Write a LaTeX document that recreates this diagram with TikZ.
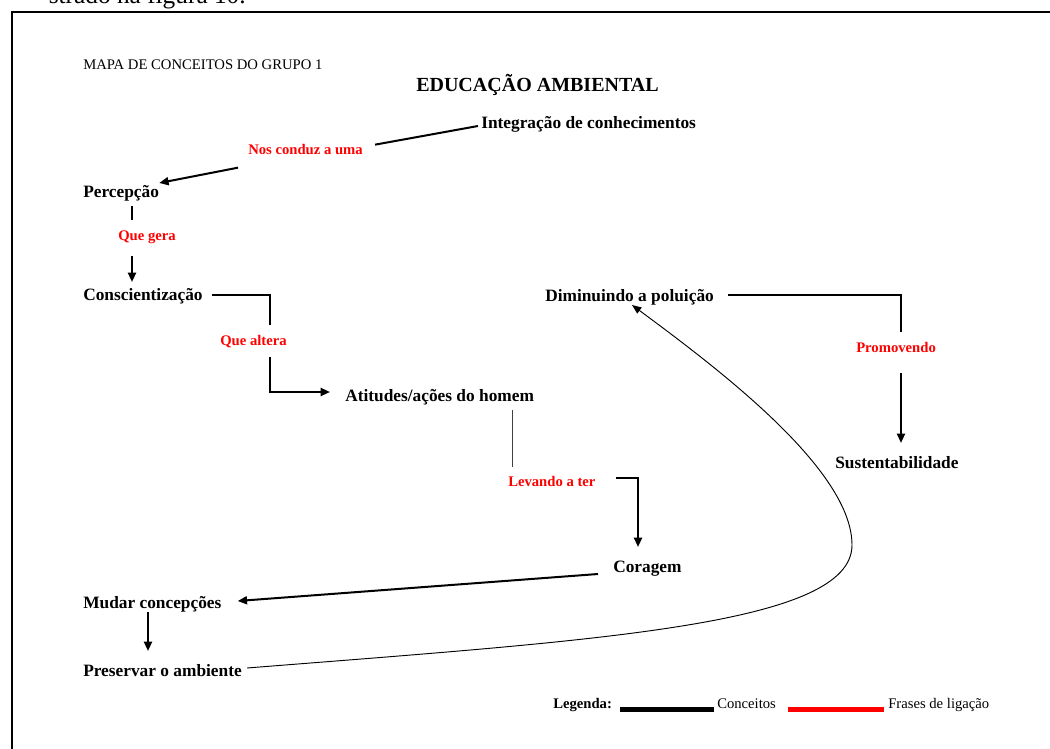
\documentclass[tikz,border=0pt]{standalone}
\usepackage{fontspec}
\setmainfont{Liberation Serif}
\usetikzlibrary{arrows.meta}
\tikzset{
  concept/.style={font=\fontsize{13pt}{15pt}\selectfont\bfseries, inner sep=0pt, text height=9pt, text depth=3pt, anchor=base west},
  linkph/.style={font=\fontsize{11pt}{13pt}\selectfont\bfseries, text=red, inner sep=0pt, text height=7.5pt, text depth=2.5pt, anchor=base west},
  plaintxt/.style={font=\fontsize{11pt}{13pt}\selectfont, inner sep=0pt, text height=7.5pt, text depth=2.5pt, anchor=base west},
  conn/.style={line width=1.5pt, black},
  arr/.style={conn, -{Triangle[length=7pt,width=6pt]}},
  thinarr/.style={line width=0.7pt, black, -{Triangle[length=7pt,width=5.5pt]}},
  thinline/.style={line width=0.7pt, black!75}
}
\begin{document}
\begin{tikzpicture}[x=0.75pt,y=-0.75pt]
\useasboundingbox (0,0) rectangle (1050,749);
\clip (0,0) rectangle (1050,749);
\fill[white] (0,0) rectangle (1050,749);

% cut-off text above the frame
\node[font=\fontsize{19pt}{22pt}\selectfont, inner sep=0pt, anchor=base east] (toptext) at (246,4) {strado na figura 10.};

% frame
\draw[line width=1pt] (1052,12) -- (12,12) -- (12,752);

% titles
\node[plaintxt] (mapa) at (83,70) {MAPA DE CONCEITOS DO GRUPO 1};
\node[font=\fontsize{15pt}{18pt}\selectfont\bfseries, inner sep=0pt, anchor=base west] (titulo) at (416,92) {EDUCAÇÃO AMBIENTAL};

% concepts
\node[concept] (integ) at (481,128) {Integração de conhecimentos};
\node[concept] (perc) at (83,197) {Percepção};
\node[concept] (consc) at (83,300) {Conscientização};
\node[concept] (atit) at (345,401) {Atitudes/ações do homem};
\node[concept] (dimin) at (545,301) {Diminuindo a poluição};
\node[concept] (sust) at (835,468) {Sustentabilidade};
\node[concept] (corag) at (613,572) {Coragem};
\node[concept] (mudar) at (83,608) {Mudar concepções};
\node[concept] (preserv) at (83,676) {Preservar o ambiente};

% linking phrases
\node[linkph] (nos) at (248,155) {Nos conduz a uma};
\node[linkph] (gera) at (118,240) {Que gera};
\node[linkph] (altera) at (220,345) {Que altera};
\node[linkph] (promo) at (856,352) {Promovendo};
\node[linkph] (levando) at (508,486) {Levando a ter};

% connectors
\draw[conn] ([shift={(-3,2)}]integ.west) -- ([shift={(12,-7)}]nos.east);
\draw[arr] ([shift={(-10,16)}]nos.west) -- ([shift={(0,-10)}]perc.east);

\draw[conn] ([shift={(49,13)}]perc.west) -- ([shift={(14,-17)}]gera.west);
\draw[arr] ([shift={(14,19)}]gera.west) -- ([shift={(49,-14)}]consc.west);

\draw[conn] ([shift={(9,-1)}]consc.east) -| ([shift={(50,-17)}]altera.west);
\draw[arr] ([shift={(50,15)}]altera.west) |- ([shift={(-15,-5)}]atit.west);

\draw[thinline] ([shift={(167,13)}]atit.west) -- ([shift={(4,-16)}]levando.west);
\draw[arr] ([shift={(20,-5)}]levando.east) -| ([shift={(25,-21)}]corag.west);

\draw[arr] ([shift={(-15,6)}]corag.west) -- ([shift={(16,-3)}]mudar.east);
\draw[arr] ([shift={(65,8)}]mudar.west) -- ([shift={(65,-21)}]preserv.west);

\coordinate (bend) at (852,545);
\draw[thinarr] ([shift={(5,-4)}]preserv.east) .. controls (600,640) and (852,625) .. (bend)
   .. controls (852,470) and (720,370) .. ([shift={(87,8)}]dimin.west);

\draw[conn] ([shift={(14,-2)}]dimin.east) -| ([shift={(45,-17)}]promo.west);
\draw[arr] ([shift={(45,24)}]promo.west) -- ([shift={(66,-21)}]sust.west);

% legend
\node[font=\fontsize{11pt}{13pt}\selectfont\bfseries, inner sep=0pt, text height=7.5pt, text depth=2.5pt, anchor=base west] (leg) at (553,708) {Legenda:};
\node[plaintxt] (conc) at (717,708) {Conceitos};
\node[plaintxt] (frases) at (888,708) {Frases de ligação};
\draw[line width=3.75pt, black] ([shift={(8,5)}]leg.east) -- ([shift={(-3,5)}]conc.west);
\draw[line width=3.75pt, red] ([shift={(12,5)}]conc.east) -- ([shift={(-4,5)}]frases.west);
\end{tikzpicture}
\end{document}
